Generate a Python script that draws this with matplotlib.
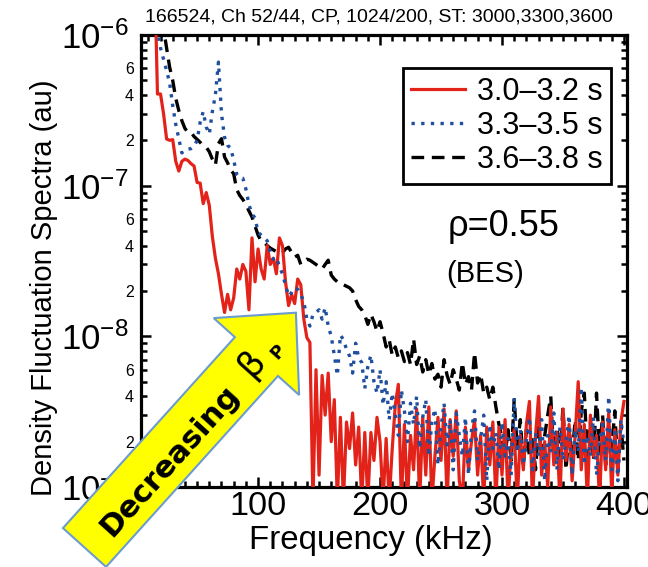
import numpy as np
import matplotlib
matplotlib.use("Agg")
import matplotlib.pyplot as plt
from matplotlib import font_manager
from matplotlib.patches import FancyArrow
from matplotlib.ticker import LogLocator, FuncFormatter, MultipleLocator, NullFormatter

# frequency grid (kHz), 2.5 kHz steps
freq = np.arange(5, 402.5, 2.5)

# spectra in units of 1e-9 (au); 3000 = off the top, 0.8 = below the bottom
red_3000 = [3000, 3000, 3000, 3000, 3000, 406, 406, 300, 204, 200,
            202, 145, 125, 145, 150, 147, 140, 135, 105, 104,
            76, 90, 74, 46, 33, 26, 19, 14.4, 19, 15,
            18, 28, 24, 30, 27, 15, 45, 23, 38, 28,
            24, 40, 30, 33, 26, 45, 40, 23, 16, 19,
            16.5, 24, 22, 13, 9.8, 9.1, 0.8, 6.0, 1.2, 5.5,
            3.0, 5.7, 2.0, 3.8, 0.8, 2.9, 0.8, 2.7, 1.8, 3.1,
            1.4, 2.5, 0.8, 2.3, 0.8, 2.3, 1.5, 2.9, 2.0, 0.8,
            2.1, 0.8, 1.8, 3.5, 4.8, 0.8, 2.6, 0.8, 2.2, 1.3,
            3.3, 0.8, 2.9, 1.2, 3.4, 0.8, 1.6, 2.9, 1.5, 3.3,
            0.8, 2.8, 1.6, 3.2, 1.1, 0.8, 2.5, 1.3, 2.0, 2.8,
            1.2, 2.2, 0.8, 2.5, 1.4, 2.7, 0.8, 2.5, 1.2, 2.8,
            0.8, 1.8, 2.4, 0.8, 2.2, 1.3, 2.6, 3.7, 0.8, 2.2,
            4.0, 1.2, 2.0, 1.0, 3.4, 1.4, 2.3, 0.8, 3.3, 1.5,
            2.6, 1.1, 2.2, 5.0, 1.3, 2.6, 0.8, 3.0, 1.6, 2.2,
            0.8, 2.7, 1.3, 3.1, 0.9, 2.4, 1.2, 2.7, 3.7]

blue_3300 = [3000, 3000, 3000, 3000, 3000, 1100, 820, 690, 580, 480,
             340, 255, 205, 165, 172, 175, 176, 182, 200, 263,
             310, 245, 220, 310, 400, 661, 300, 210, 185, 178,
             148, 119, 113, 112, 95, 75, 65, 61, 49, 47,
             45, 43, 36, 32.5, 33.5, 29, 26, 22, 18.5, 19.5,
             21, 20.5, 19, 17, 13, 11.7, 14, 14.4, 15, 13,
             15.5, 11.7, 10, 7.5, 5.5, 10.2, 9.5, 8.2, 7.4, 5.7,
             9, 7.2, 6.7, 4.5, 6.3, 7.5, 5.0, 4.2, 6.0, 3.5,
             5.0, 2.8, 4.2, 3.0, 2.2, 4.4, 3.2, 2.0, 3.6, 2.6,
             4.0, 1.8, 2.9, 3.8, 1.6, 2.7, 3.3, 1.4, 2.5, 3.6,
             1.9, 2.8, 1.3, 3.1, 2.2, 1.6, 2.9, 1.2, 2.4, 3.2,
             1.5, 2.1, 3.0, 1.1, 2.6, 1.8, 2.3, 1.3, 2.7, 1.6,
             2.1, 1.2, 3.9, 1.7, 2.4, 1.4, 2.0, 2.9, 1.3, 2.3,
             1.6, 2.8, 1.1, 2.2, 1.7, 3.1, 1.3, 2.5, 1.5, 2.0,
             3.0, 1.2, 2.4, 1.7, 4.6, 1.4, 2.2, 1.6, 2.9, 1.2,
             2.0, 2.6, 1.5, 4.0, 1.3, 2.3, 1.1, 2.8, 1.9]

black_3600 = [3000, 3000, 3000, 3000, 3000, 3000, 3000, 1100, 820, 610,
              500, 380, 315, 270, 240, 226, 226, 212, 203, 194,
              184, 180, 168, 150, 137, 190, 205, 155, 142, 127,
              120, 94, 86, 81, 75, 68, 62, 54, 47, 43,
              42, 40, 38.5, 37.5, 36.5, 35.5, 36, 38, 39, 36,
              33.5, 34.5, 30, 31.5, 32.5, 32, 31, 30, 29, 28,
              30, 32, 25.5, 24, 23, 22.8, 22, 21.5, 21, 20,
              17.5, 15.8, 15, 13.8, 12, 14, 12.5, 10.8, 12.5, 10.5,
              8.5, 9.5, 7.5, 8.5, 7.2, 8.0, 6.8, 7.8, 6.5, 9.6,
              6.5, 7.4, 5.8, 7.0, 5.6, 6.6, 5.2, 5.6, 4.6, 7.0,
              5.5, 4.8, 6.0, 5.2, 4.4, 6.7, 4.8, 5.4, 4.4, 7.8,
              4.9, 5.6, 4.2, 4.6, 3.8, 4.6, 3.4, 2.6, 2.1, 1.6,
              2.4, 1.5, 3.8, 1.8, 2.8, 1.4, 2.4, 1.6, 2.2, 1.3,
              2.5, 1.6, 2.2, 3.0, 4.0, 1.5, 2.5, 1.6, 3.4, 1.3,
              2.4, 1.6, 2.8, 1.5, 3.2, 4.2, 1.6, 2.7, 1.5, 4.2,
              1.7, 3.0, 1.4, 2.5, 1.8, 3.2, 1.3, 2.6, 1.5]

labels = ["3.0\u20133.2 s", "3.3\u20133.5 s", "3.6\u20133.8 s"]
y_ticks_minor_shown = [2, 4, 6]

red = np.array(red_3000) * 1e-9
blue = np.array(blue_3300) * 1e-9
black = np.array(black_3600) * 1e-9

names = {f.name for f in font_manager.fontManager.ttflist}
if "Liberation Sans Narrow" in names:
    narrow, k = "Liberation Sans Narrow", 1.0
else:
    narrow, k = "Liberation Sans", 0.88

plt.rcParams["font.family"] = ["Liberation Sans", "DejaVu Sans"]
plt.rcParams["mathtext.fontset"] = "custom"
plt.rcParams["mathtext.rm"] = "Liberation Sans"

fig = plt.figure(figsize=(6.48, 5.67), dpi=100)
ax = fig.add_axes([141 / 648, 80 / 567, 486 / 648, 452 / 567])

ax.plot(freq, black, color="black", lw=2.4, ls=(0, (3.8, 2.3)), label=labels[2], zorder=2)
ax.plot(freq, red, color="#e32219", lw=2.3, label=labels[0], zorder=3)
ax.plot(freq, blue, color="#1f4f9e", lw=2.4, ls=(0, (1, 1.9)), label=labels[1], zorder=4)

ax.set_yscale("log")
ax.set_xlim(4, 402.5)
ax.set_ylim(1e-9, 1e-6)

ax.xaxis.set_major_locator(MultipleLocator(100))
ax.xaxis.set_minor_locator(MultipleLocator(10))
ax.yaxis.set_major_locator(LogLocator(base=10))
ax.yaxis.set_minor_locator(LogLocator(base=10, subs=np.arange(2, 10)))


def major_fmt(v, pos):
    return r"$\mathdefault{10^{%d}}$" % int(round(np.log10(v)))


def minor_fmt(v, pos):
    m = int(round(v / 10 ** np.floor(np.log10(v) + 1e-9)))
    return str(m) if m in y_ticks_minor_shown else ""


ax.yaxis.set_major_formatter(FuncFormatter(major_fmt))
ax.yaxis.set_minor_formatter(FuncFormatter(minor_fmt))
ax.xaxis.set_minor_formatter(NullFormatter())

for s in ax.spines.values():
    s.set_linewidth(2.3)

ax.tick_params(which="both", direction="in", top=True, right=True, width=1.8)
ax.tick_params(which="major", length=7.5)
ax.tick_params(which="minor", length=4.5)
ax.tick_params(axis="y", which="major", labelsize=25, pad=9)
ax.tick_params(axis="y", which="minor", labelsize=11.5, pad=5)
ax.tick_params(axis="x", which="major", labelsize=28 * k, pad=3)
for t in ax.get_xticklabels():
    t.set_fontfamily(narrow)

ax.set_xlabel("Frequency (kHz)", fontsize=27 * k, family=narrow)
ax.xaxis.set_label_coords(0.473, -0.085)
ax.set_ylabel("Density Fluctuation Spectra (au)", fontsize=21, family=narrow)
ax.yaxis.set_label_coords(-0.171, 0.44)

h, l = ax.get_legend_handles_labels()
order = [1, 2, 0]
leg = ax.legend([h[i] for i in order], [l[i] for i in order],
                loc="upper right", bbox_to_anchor=(0.967, 0.927),
                borderaxespad=0, fancybox=False, edgecolor="black",
                framealpha=1, fontsize=22, handlelength=1.75,
                handletextpad=0.4, labelspacing=0.14, borderpad=0.28)
leg.get_frame().set_linewidth(2.0)

ax.text(0.745, 0.577, "\u03c1=0.55", transform=ax.transAxes,
        fontsize=26, ha="center", va="center")
ax.text(0.708, 0.471, "(BES)", transform=ax.transAxes,
        fontsize=21, ha="center", va="center")

fig.text(0.585, 0.97, "166524, Ch 52/44, CP, 1024/200, ST: 3000,3300,3600",
         fontsize=14, ha="center", va="center")

# yellow "Decreasing beta_P" arrow
arrow = FancyArrow(0.845, 0.195, 2.114, 2.348, width=0.58, head_width=1.15,
                   head_length=0.59, length_includes_head=True,
                   transform=fig.dpi_scale_trans, facecolor="#ffff00",
                   edgecolor="#6c9bd2", lw=1.5, zorder=5)
fig.add_artist(arrow)
fig.text(170 / 648, 1 - 461 / 567, "Decreasing", fontsize=22, weight="bold",
         family="DejaVu Sans", rotation=48, rotation_mode="anchor",
         ha="center", va="center", zorder=6)
fig.text(252 / 648, 1 - 363 / 567, "\u03b2", fontsize=26, family="DejaVu Sans",
         rotation=48, rotation_mode="anchor", ha="center", va="center", zorder=6)
fig.text(278 / 648, 1 - 352 / 567, "P", fontsize=13, weight="bold",
         family="DejaVu Sans", rotation=48, rotation_mode="anchor",
         ha="center", va="center", zorder=6)

fig.savefig("out.png", dpi=100)
